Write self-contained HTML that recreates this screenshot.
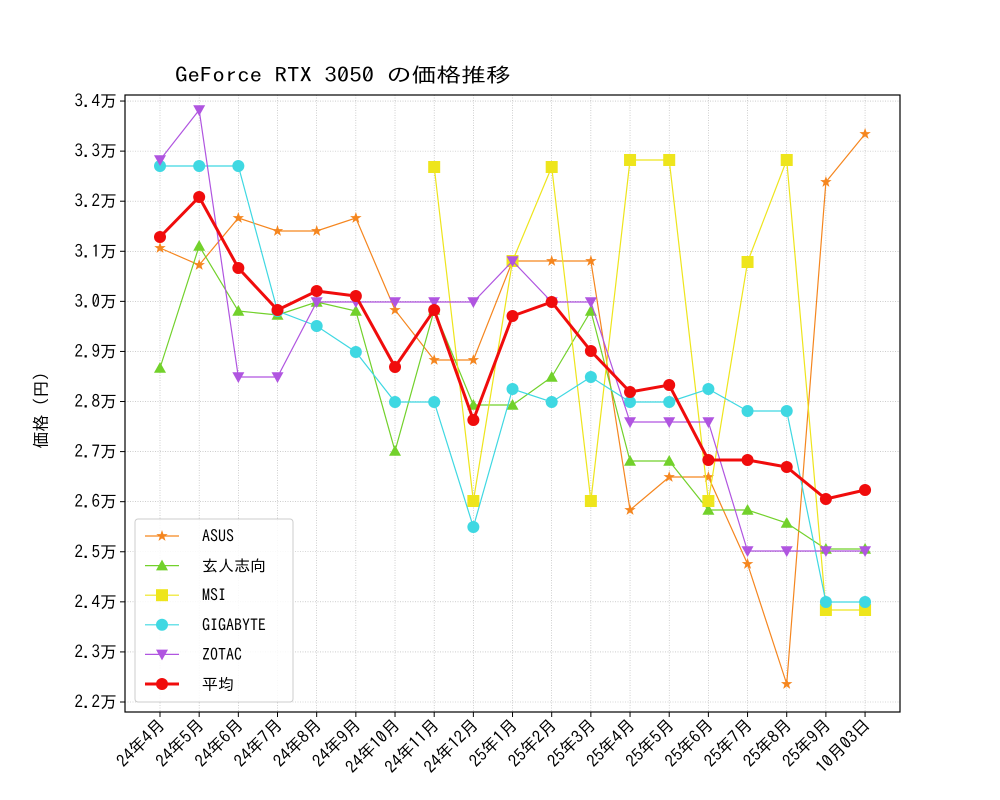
<!DOCTYPE html>
<html><head><meta charset="utf-8"><style>body{margin:0;background:#fff}svg{display:block}text{font-family:"IPAGothic","Noto Sans CJK JP",monospace;fill:#000}</style></head><body>
<svg width="1000" height="800" xmlns="http://www.w3.org/2000/svg">
<rect width="1000" height="800" fill="#fff"/>
<g id="grid" stroke="#b0b0b0" stroke-width="0.6" stroke-dasharray="1,1.5"></g>
<rect x="125" y="95" width="775" height="617" fill="none" stroke="#000" stroke-width="1.2"/>
<g id="ticks"></g>
<text x="175" y="82" font-size="20" textLength="336" lengthAdjust="spacingAndGlyphs">GeForce RTX 3050 の価格推移</text>
<text transform="translate(47,406) rotate(-90)" font-size="17" text-anchor="middle">価格（円）</text>
<g id="series"></g>
<g id="legend"></g>
<script>
const X=i=>160+i*39.17;
const ns="http://www.w3.org/2000/svg";
function el(p,t,a,txt){const e=document.createElementNS(ns,t);for(const k in a)e.setAttribute(k,a[k]);if(txt!==undefined)e.textContent=txt;p.appendChild(e);return e;}
const grid=document.getElementById('grid'),ticks=document.getElementById('ticks');
const xl=["24年4月","24年5月","24年6月","24年7月","24年8月","24年9月","24年10月","24年11月","24年12月","25年1月","25年2月","25年3月","25年4月","25年5月","25年6月","25年7月","25年8月","25年9月","10月03日"];
xl.forEach((l,i)=>{const x=X(i);el(grid,'line',{x1:x,x2:x,y1:95,y2:712});el(ticks,'line',{x1:x,x2:x,y1:712,y2:717,stroke:'#000'});
el(ticks,'text',{x:0,y:0,'font-size':17,'text-anchor':'end',transform:`translate(${x+6},${726}) rotate(-45)`},l);});
for(let k=0;k<=12;k++){const y=702-k*50.08;const v=(2.2+k*0.1).toFixed(1)+"万";el(grid,'line',{x1:125,x2:900,y1:y,y2:y});el(ticks,'line',{x1:120,x2:125,y1:y,y2:y,stroke:'#000'});el(ticks,'text',{x:117,y:y+6,'font-size':17,'text-anchor':'end'},v);}
function mark(p,type,x,y,c,s){s=s||6;
if(type=='star'){let pts=[];for(let k=0;k<10;k++){const r=k%2?s*0.4:s;const a=-Math.PI/2+k*Math.PI/5;pts.push((x+r*Math.cos(a)).toFixed(1)+","+(y+r*Math.sin(a)).toFixed(1));}el(p,'polygon',{points:pts.join(' '),fill:c});}
else if(type=='tri')el(p,'polygon',{points:`${x},${y-s} ${x-s},${y+s*0.8} ${x+s},${y+s*0.8}`,fill:c});
else if(type=='tv')el(p,'polygon',{points:`${x},${y+s} ${x-s},${y-s*0.8} ${x+s},${y-s*0.8}`,fill:c});
else if(type=='sq')el(p,'rect',{x:x-s,y:y-s,width:2*s,height:2*s,fill:c});
else el(p,'circle',{cx:x,cy:y,r:s,fill:c});}
const S=[
["ASUS","#f5861f","star",1.2,0,[248,265,218,231,231,218,310,360,360,261,261,261,510,477,477,564,684,182,134]],
["玄人志向","#72d12b","tri",1.2,0,[368,246,311,315,302,311,451,310,405,405,377,311,461,461,510,510,523,549,549]],
["MSI","#eee51c","sq",1.2,7,[167,501,261,167,501,160,160,501,262,160,610,610]],
["GIGABYTE","#3fd8e2","circ",1.2,0,[166,166,166,311,326,352,402,402,527,389,402,377,402,402,389,411,411,602,602]],
["ZOTAC","#b055e0","tv",1.2,0,[160,110,377,377,302,302,302,302,302,261,302,302,422,422,422,551,551,551,551]],
["平均","#f00c0c","circ",3,0,[237,197,268,310,291,296,367,310,420,316,302,351,392,385,460,460,467,499,490]]];
const sg=document.getElementById('series'),lg=document.getElementById('legend');
el(lg,'rect',{x:135,y:519,width:158,height:183,rx:3,fill:'#fff','fill-opacity':0.85,stroke:'#ccc'});
S.forEach((s,j)=>{const [n,c,m,w,o,ys]=s;const pts=ys.map((y,i)=>X(i+o)+","+y).join(' ');
el(sg,'polyline',{points:pts,fill:'none',stroke:c,'stroke-width':w});
ys.forEach((y,i)=>mark(sg,m,X(i+o),y,c,6));
const ly=536+j*29.6;el(lg,'line',{x1:145,x2:179,y1:ly,y2:ly,stroke:c,'stroke-width':w});mark(lg,m,162,ly,c,6);
el(lg,'text',{x:202,y:ly+6,'font-size':16},n);});
</script>
</svg></body></html>
